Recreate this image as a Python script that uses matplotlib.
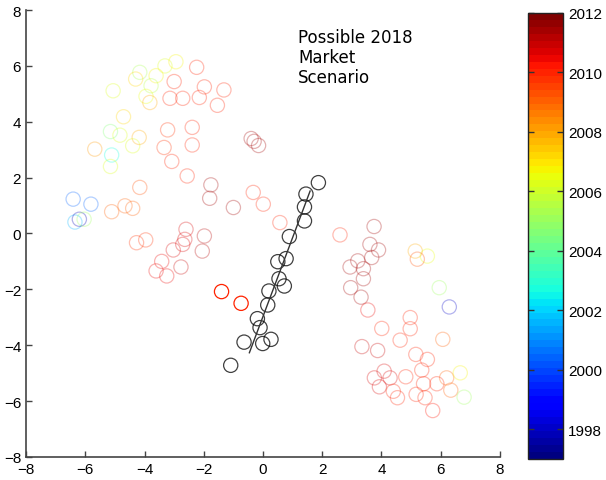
import numpy as np
import matplotlib
matplotlib.use("Agg")
import matplotlib.pyplot as plt
from matplotlib.colors import Normalize
from matplotlib.cm import ScalarMappable

# --- Data ---
# market states from past years (drawn faded, coloured by year)
hist_x = [-5.06, -4.16, -3.31, -2.94, -4.30, -3.61, -3.78, -3.95, -3.82,
          -2.24, -3.00, -1.98, -1.32, -3.14, -2.71, -2.15, -1.54,
          -4.71, -5.15, -4.83, -4.18, -4.40, -5.68, -5.11, -5.15,
          -3.22, -2.39, -2.39, -3.34, -3.08, -2.56,
          -1.76, -1.80, -1.00, -0.40, -0.30, -0.15, -0.33, 0.01, -4.16,
          -6.41, -5.81, -6.35, -6.20, -6.04, -5.11, -4.66, -4.40,
          -4.27, -3.96, -2.60, -2.64, -2.71, -3.03, -1.98, -2.05,
          -3.42, -3.61, -3.25, -2.77, 0.57, 2.60,
          3.75, 3.61, 3.90, 3.67, 3.20, 2.94, 3.39, 3.39, 2.96, 3.31, 3.54,
          5.14, 5.55, 5.21, 5.95, 6.29,
          4.01, 4.97, 4.97, 4.63, 6.07, 3.34, 3.87,
          5.16, 5.55, 5.36, 4.09, 3.76, 4.29, 4.82, 6.20, 6.66,
          3.93, 5.42, 5.87, 4.40, 4.54, 5.17, 5.47, 6.34, 6.79, 5.73]
hist_y = [5.11, 5.77, 6.00, 6.15, 5.53, 5.65, 5.29, 4.91, 4.69,
          5.95, 5.44, 5.25, 5.14, 4.84, 4.84, 4.87, 4.59,
          4.18, 3.65, 3.52, 3.44, 3.14, 3.02, 2.81, 2.40,
          3.71, 3.80, 3.17, 3.08, 2.58, 2.06,
          1.74, 1.26, 0.93, 3.40, 3.30, 3.15, 1.47, 1.05, 1.65,
          1.23, 1.05, 0.41, 0.51, 0.51, 0.78, 0.99, 0.90,
          -0.33, -0.23, 0.15, -0.21, -0.39, -0.59, -0.09, -0.63,
          -1.00, -1.34, -1.52, -1.20, 0.39, -0.05,
          0.25, -0.39, -0.59, -0.86, -0.98, -1.20, -1.26, -1.62, -1.94, -2.28, -2.74,
          -0.63, -0.81, -0.92, -1.94, -2.63,
          -3.40, -3.01, -3.41, -3.82, -3.79, -4.05, -4.19,
          -4.33, -4.51, -4.89, -4.93, -5.17, -5.17, -5.13, -5.17, -4.99,
          -5.49, -5.38, -5.38, -5.65, -5.88, -5.76, -5.88, -5.61, -5.86, -6.34]
hist_year = [2006.2, 2005.3, 2006.3, 2006.7, 2007.2, 2006.8, 2005.5, 2006.5, 2007.8,
             2010.0, 2010.0, 2010.0, 2010.0, 2010.0, 2010.0, 2010.0, 2010.0,
             2007.2, 2004.5, 2006.2, 2008.0, 2006.3, 2008.2, 2002.8, 2006.2,
             2009.7, 2010.0, 2010.0, 2009.7, 2010.0, 2010.0,
             2011.3, 2011.3, 2011.3, 2011.5, 2011.5, 2011.5, 2010.0, 2010.0, 2009.4,
             2000.3, 2000.3, 2001.5, 1997.8, 2005.0, 2009.0, 2009.0, 2009.0,
             2009.8, 2009.8, 2010.8, 2010.8, 2010.8, 2010.8, 2011.2, 2011.2,
             2010.5, 2010.5, 2010.5, 2011.0, 2010.0, 2010.0,
             2011.3, 2011.3, 2011.3, 2011.3, 2011.3, 2011.3, 2011.3, 2011.3, 2011.3, 2011.3, 2010.5,
             2008.0, 2006.5, 2009.3, 2005.2, 1998.0,
             2010.0, 2010.0, 2010.0, 2010.0, 2009.0, 2011.0, 2011.0,
             2010.0, 2010.0, 2010.0, 2010.8, 2010.8, 2010.8, 2010.0, 2009.0, 2006.8,
             2010.8, 2010.0, 2010.0, 2010.0, 2010.0, 2010.0, 2010.0, 2009.0, 2005.0, 2010.2]

# most recent observed states (full colour)
recent_x = [-1.40, -0.74]
recent_y = [-2.08, -2.50]
recent_year = [2010.0, 2010.0]

# simulated 2018 scenario
scen_x = [1.87, 1.45, 1.40, 1.40, 0.89, 0.78, 0.50, 0.54, 0.72, 0.20,
          0.16, -0.19, -0.10, -0.64, -0.01, 0.27, -1.09]
scen_y = [1.82, 1.41, 0.95, 0.45, -0.11, -0.90, -1.01, -1.62, -1.88, -2.06,
          -2.56, -3.05, -3.37, -3.89, -3.94, -3.79, -4.72]
trend_x = [-0.46, 1.59]
trend_y = [-4.27, 1.52]

year_min, year_max = 1997, 2012
cbar_ticks = [1998, 2000, 2002, 2004, 2006, 2008, 2010, 2012]
axis_ticks = [-8, -6, -4, -2, 0, 2, 4, 6, 8]

# --- Plot ---
plt.rcParams['font.family'] = ['Liberation Sans', 'DejaVu Sans']
fig = plt.figure(figsize=(6.06, 4.81), dpi=100)
ax = fig.add_axes([0.043, 0.048, 0.782, 0.929])
cax = fig.add_axes([0.8713, 0.044, 0.0578, 0.927])

cmap = matplotlib.colormaps['jet'].resampled(64)
norm = Normalize(vmin=year_min, vmax=year_max)

ax.scatter(hist_x, hist_y, s=105, facecolors='none',
           edgecolors=cmap(norm(np.array(hist_year))), linewidths=0.9, alpha=0.3)
ax.scatter(recent_x, recent_y, s=105, facecolors='none',
           edgecolors=cmap(norm(np.array(recent_year))), linewidths=0.9)
ax.scatter(scen_x, scen_y, s=105, facecolors='none', edgecolors='black',
           linewidths=0.9, alpha=0.75)
ax.plot(trend_x, trend_y, color='#333333', lw=1.0)

ax.text(1.18, 7.35, "Possible 2018\nMarket\nScenario", fontsize=12,
        family='DejaVu Sans', va='top', ha='left', linespacing=1.15)

ax.set_xlim(-8, 8)
ax.set_ylim(-8, 8)
ax.set_xticks(axis_ticks)
ax.set_yticks(axis_ticks)
for side in ['top', 'right']:
    ax.spines[side].set_visible(False)
for side in ['left', 'bottom']:
    ax.spines[side].set_color('#444444')
    ax.spines[side].set_linewidth(1.2)
ax.tick_params(direction='in', length=4, width=1, color='#444444', labelsize=11)

sm = ScalarMappable(norm=norm, cmap=cmap)
cb = fig.colorbar(sm, cax=cax, ticks=cbar_ticks)
cb.outline.set_edgecolor('#222222')
cb.outline.set_linewidth(1.0)
cax.tick_params(direction='in', length=4, width=1, color='#333333',
                left=True, right=True, labelsize=11)

fig.savefig("out.png", dpi=100)
